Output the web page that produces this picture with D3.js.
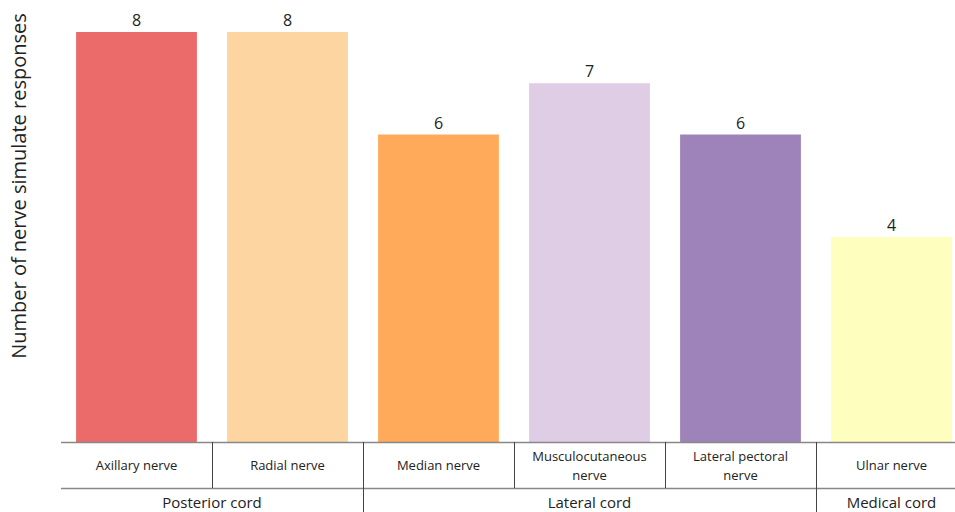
<!DOCTYPE html>
<html><head><meta charset="utf-8">
<script src="https://cdn.jsdelivr.net/npm/d3@7"></script>
<style>body{margin:0;background:#fff;} svg{display:block;font-family:"Open Sans","Noto Sans",sans-serif;}</style>
</head><body>
<svg id="c" width="955" height="512"></svg>
<script>
const categories = ["Axillary nerve","Radial nerve","Median nerve","Musculocutaneous nerve","Lateral pectoral nerve","Ulnar nerve"];
const labelLines = [["Axillary nerve"],["Radial nerve"],["Median nerve"],["Musculocutaneous","nerve"],["Lateral pectoral","nerve"],["Ulnar nerve"]];
const values = [8,8,6,7,6,4];
const groups = ["Posterior cord","Lateral cord","Medical cord"];
const groupSpans = [[0,1],[2,4],[5,5]];
const colors = ["#eb6a6a","#fdd5a1","#feaa5a","#dfcde5","#9e83bb","#fefebf"];
const yLabel = "Number of nerve simulate responses";

(function(){
const svg = d3.select("#c");
const left = 61, cw = 151, base = 442, plotTop = 32;
const xs = d3.scaleBand().domain(categories).range([left, left + cw*categories.length]).padding(0);
const barW = cw*0.8;
const y = d3.scaleLinear().domain([0,8]).range([base, plotTop]);

svg.selectAll("rect.bar").data(values).join("rect")
  .attr("x",(d,i)=>xs(categories[i]) + (cw-barW)/2)
  .attr("y",d=>y(d)).attr("width",barW).attr("height",d=>base-y(d))
  .attr("fill",(d,i)=>colors[i]);

svg.selectAll("text.val").data(values).join("text")
  .attr("x",(d,i)=>xs(categories[i]) + cw/2).attr("y",d=>y(d)-6)
  .attr("text-anchor","middle").attr("font-size",16).attr("fill","#222").text(d=>d);

svg.append("line").attr("x1",left).attr("x2",955).attr("y1",base+0.5).attr("y2",base+0.5).attr("stroke","#888").attr("stroke-width",1.5);
svg.append("line").attr("x1",left).attr("x2",955).attr("y1",488.5).attr("y2",488.5).attr("stroke","#888").attr("stroke-width",1.5);

const groupBounds = new Set(groupSpans.map(s=>s[1]+1));
for (let i=1;i<categories.length;i++){
  const xx = Math.round(xs(categories[i]))+0.5;
  svg.append("line").attr("x1",xx).attr("x2",xx).attr("y1",base).attr("y2",groupBounds.has(i)?512:488)
    .attr("stroke","#444").attr("stroke-width",1);
}

labelLines.forEach((lines,i)=>{
  const cx = xs(categories[i]) + cw/2;
  const t = svg.append("text").attr("text-anchor","middle").attr("font-size",13).attr("fill","#222");
  const y0 = lines.length===1 ? 470 : 461;
  lines.forEach((l,j)=>t.append("tspan").attr("x",cx).attr("y",y0 + j*19).text(l));
});

groupSpans.forEach((s,i)=>{
  const x0 = xs(categories[s[0]]), x1 = xs(categories[s[1]]) + cw;
  svg.append("text").attr("x",(x0+x1)/2).attr("y",508).attr("text-anchor","middle")
    .attr("font-size",15).attr("fill","#222").text(groups[i]);
});

svg.append("text").attr("transform","translate(26,186) rotate(-90)").attr("text-anchor","middle")
  .attr("font-size",20).attr("fill","#222").text(yLabel);
})();
</script>
</body></html>
